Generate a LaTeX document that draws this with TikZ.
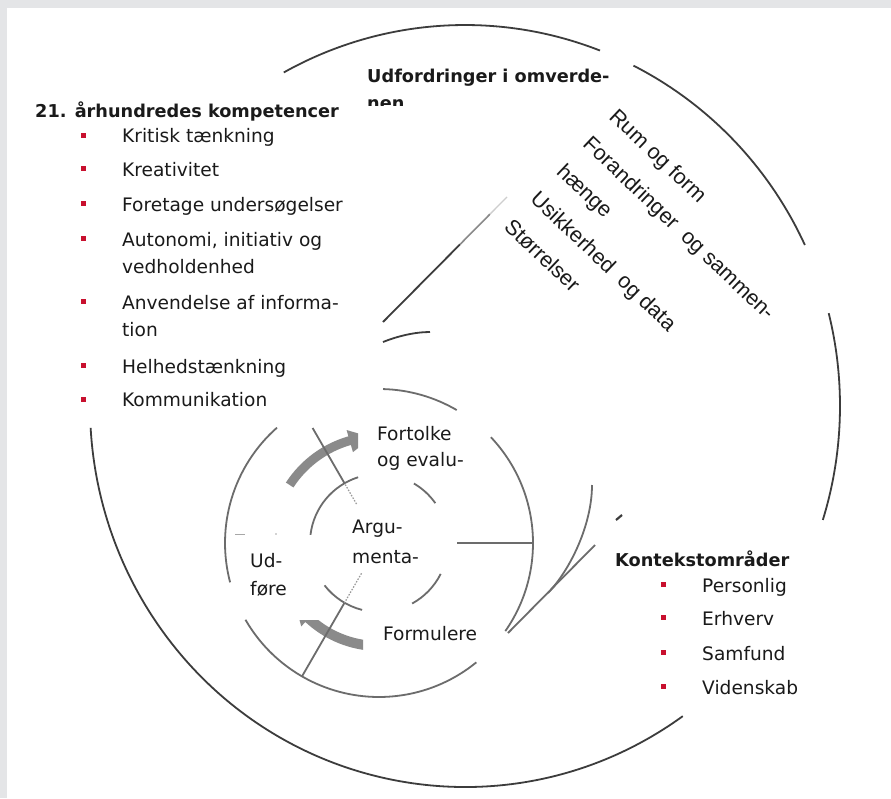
\documentclass[tikz,border=0pt]{standalone}
\usepackage{fontspec}
\setmainfont{DejaVu Sans}
\newfontfamily\arialf{Liberation Sans}
\definecolor{bandgrey}{HTML}{E4E5E7}
\definecolor{outerline}{HTML}{3C3C3C}
\definecolor{ringline}{HTML}{6C6C6C}
\definecolor{arrowgrey}{HTML}{8A8A8A}
\definecolor{bulletred}{HTML}{C8102E}
\definecolor{txt}{HTML}{1A1A1A}
\tikzset{
  outer/.style={draw=outerline, line width=1.8pt},
  ring/.style={draw=ringline, line width=1.8pt},
  dotspoke/.style={draw=ringline!70, line width=1.2pt, dash pattern=on 1.5pt off 1.5pt},
  lbl/.style={inner sep=0pt, anchor=base west, text=txt, font=\fontsize{18.6}{27}\selectfont},
  ttl/.style={inner sep=0pt, anchor=base west, text=txt, font=\bfseries\fontsize{17.7}{27}\selectfont},
  rot/.style={inner sep=0pt, anchor=base west, text=txt, rotate=-43.5, font=\arialf\fontsize{21.5}{26}\selectfont},
  bul/.style={fill=bulletred, minimum size=5pt, inner sep=0pt, draw=none}
}
\begin{document}
\begin{tikzpicture}[x=1pt,y=-1pt]
\useasboundingbox (0,0) rectangle (891,798);
\fill[white] (0,0) rectangle (891,798);
\fill[bandgrey] (0,0) rectangle (891,8);
\fill[bandgrey] (0,0) rectangle (7,798);

% outer ring
\begin{scope}[shift={(465,406)}]
  \draw[outer] (241.1:375 and 381) arc[start angle=241.1, end angle=291.1, x radius=375, y radius=381];
  \draw[outer] (296.7:375 and 381) arc[start angle=296.7, end angle=335, x radius=375, y radius=381];
  \draw[outer] (345.9:375 and 381) arc[start angle=345.9, end angle=377.4, x radius=375, y radius=381];
  \draw[outer] (54.5:375 and 381) arc[start angle=54.5, end angle=176.7, x radius=375, y radius=381];
\end{scope}

% diagonal spoke with fading upper end
\coordinate (dA) at (383,322);
\coordinate (dB) at (460,244.4);
\coordinate (dC) at (490,214.1);
\coordinate (dD) at (507,197);
\draw[outer] (dA) -- (dB);
\draw[draw=outerline!60, line width=1.6pt] (dB) -- (dC);
\draw[draw=outerline!25, line width=1.3pt] (dC) -- (dD);

% short arc piece
\coordinate (aA) at (383,342);
\coordinate (aB) at (430,332);
\draw[outer] (aA) .. controls (398,336) and (415,332) .. (aB);

% grey arrows
\begin{scope}[shift={(379,543)}]
  \begin{scope}
    \clip (-200,-200) rectangle (-21,200);
    \fill[arrowgrey] (213:102) arc[start angle=213, end angle=254, radius=102]
      -- (254:94.5) -- (266:106) -- (254:117.5) -- (254:111)
      arc[start angle=254, end angle=213, radius=111] -- cycle;
  \end{scope}
  \begin{scope}
    \clip (-200,77) rectangle (-16,200);
    \fill[arrowgrey] (95:98) arc[start angle=95, end angle=133, radius=98]
      -- (133:92) -- (145:103) -- (133:114) -- (133:108)
      arc[start angle=133, end angle=95, radius=108] -- cycle;
  \end{scope}

  % middle ring
  \draw[ring] (271.5:154) arc[start angle=271.5, end angle=300.3, radius=154];
  \draw[ring] (316.6:154) arc[start angle=316.6, end angle=394.9, radius=154];
  \draw[ring] (50.8:154) arc[start angle=50.8, end angle=150.1, radius=154];
  \draw[ring] (165.2:154) arc[start angle=165.2, end angle=228.5, radius=154];
  % inner ring
  \draw[ring] (186.8:69) arc[start angle=186.8, end angle=252.4, radius=69];
  \draw[ring] (300.4:69) arc[start angle=300.4, end angle=324.7, radius=69];
  \draw[ring] (26.6:69) arc[start angle=26.6, end angle=61.3, radius=69];
  \draw[ring] (104.2:69) arc[start angle=104.2, end angle=142.1, radius=69];
  % spokes
  \draw[ring] (0:78) -- (0:154);
  \draw[ring] (240:69) -- (240:132.8);
  \draw[dotspoke] (240:45) -- (240:69);
  \draw[ring] (120:69) -- (120:154);
  \draw[dotspoke] (120:35) -- (120:69);
\end{scope}

% V shape at the right
\coordinate (vTop) at (592,485);
\coordinate (vJoin) at (548,593);
\coordinate (vLineTop) at (595,545);
\coordinate (vTip) at (508,633);
\draw[ring] (vLineTop) -- (vTip);
\draw[ring] (vTop) .. controls (592,525) and (570,570) .. (vJoin);
\coordinate (mkA) at (616,520);
\coordinate (mkB) at (622,515);
\draw[outer, line width=2.2pt] (mkA) -- (mkB);
\coordinate (tkA) at (235,534);
\coordinate (tkB) at (245,534);
\draw[draw=ringline!60, line width=1pt] (tkA) -- (tkB);
\fill[ringline!60] (276,534) circle (0.8);

% left list
\node[ttl] (t21) at (35,117) {21. århundredes kompetencer};
\node[bul] (b1) at (83,135) {};
\node[lbl] (l1) at (122,142.7) {Kritisk tænkning};
\node[bul] (b2) at (83,168.3) {};
\node[lbl] (l2) at (122,176) {Kreativitet};
\node[bul] (b3) at (83,203.3) {};
\node[lbl] (l3) at (122,211) {Foretage undersøgelser};
\node[bul] (b4) at (83,238.3) {};
\node[lbl] (l4) at (122,246) {Autonomi, initiativ og};
\node[lbl] (l4b) at (122,273) {vedholdenhed};
\node[bul] (b5) at (83,301.7) {};
\node[lbl] (l5) at (122,309.4) {Anvendelse af informa-};
\node[lbl] (l5b) at (122,336.5) {tion};
\node[bul] (b6) at (83,365.7) {};
\node[lbl] (l6) at (122,373.4) {Helhedstænkning};
\node[bul] (b7) at (83,399) {};
\node[lbl] (l7) at (122,406.7) {Kommunikation};

% top heading
\node[ttl] (tud) at (367,82) {Udfordringer i omverde-};
\begin{scope}
  \clip (360,90) rectangle (430,105.2);
  \node[ttl] (tnen) at (367,109) {nen};
\end{scope}

% rotated items
\node[rot] (r1) at (608,118) {Rum og form};
\node[rot] (r2) at (581.75,145.5) {Forandringer\ \ og sammen-};
\node[rot] (r3) at (555.5,173) {hænge};
\node[rot] (r4) at (529.25,200.5) {Usikkerhed\ \ og data};
\node[rot] (r5) at (503,228) {Størrelser};

% centre labels
\node[lbl] (c1) at (377,440) {Fortolke};
\node[lbl] (c1b) at (377,466) {og evalu-};
\node[lbl] (c2) at (352,533) {Argu-};
\node[lbl] (c2b) at (352,563) {menta-};
\node[lbl] (c3) at (250,567) {Ud-};
\node[lbl] (c3b) at (250,595) {føre};
\node[lbl] (c4) at (383,640) {Formulere};

% right list
\node[ttl] (tko) at (615,566) {Kontekstområder};
\node[bul] (k1) at (663,584.3) {};
\node[lbl] (kt1) at (702,592) {Personlig};
\node[bul] (k2) at (663,617.7) {};
\node[lbl] (kt2) at (702,625.5) {Erhverv};
\node[bul] (k3) at (663,652.3) {};
\node[lbl] (kt3) at (702,660) {Samfund};
\node[bul] (k4) at (663,686.7) {};
\node[lbl] (kt4) at (702,694.5) {Videnskab};
\end{tikzpicture}
\end{document}
